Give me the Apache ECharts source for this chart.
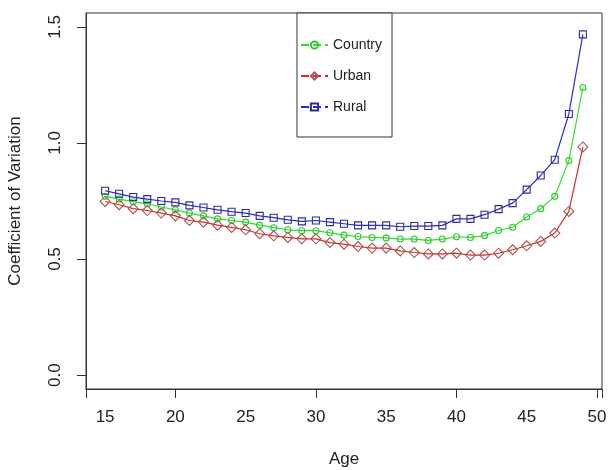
<!DOCTYPE html>
<html>
<head>
<meta charset="utf-8">
<script src="https://cdn.jsdelivr.net/npm/echarts@6/dist/echarts.min.js"></script>
<style>
  html, body { margin: 0; padding: 0; background: #fff; }
  #chart { width: 612px; height: 470px; }
</style>
</head>
<body>
<div id="chart"></div>
<script>
// ages on the x axis
const ages = [15, 16, 17, 18, 19, 20, 21, 22, 23, 24, 25, 26, 27, 28, 29, 30, 31, 32,
              33, 34, 35, 36, 37, 38, 39, 40, 41, 42, 43, 44, 45, 46, 47, 48, 49];

// coefficient of variation
const country = [0.770, 0.758, 0.747, 0.738, 0.724, 0.712, 0.698, 0.686, 0.673, 0.666,
                 0.659, 0.646, 0.635, 0.626, 0.622, 0.622, 0.613, 0.603, 0.597, 0.593,
                 0.591, 0.586, 0.586, 0.580, 0.586, 0.596, 0.593, 0.601, 0.623, 0.637,
                 0.681, 0.717, 0.770, 0.924, 1.239];
const urban = [0.748, 0.734, 0.717, 0.709, 0.698, 0.686, 0.666, 0.659, 0.646, 0.636,
               0.626, 0.609, 0.600, 0.593, 0.587, 0.587, 0.571, 0.564, 0.554, 0.547,
               0.547, 0.535, 0.528, 0.522, 0.522, 0.525, 0.517, 0.517, 0.525, 0.540,
               0.557, 0.576, 0.612, 0.705, 0.983];
const rural = [0.794, 0.781, 0.767, 0.758, 0.750, 0.744, 0.731, 0.722, 0.712, 0.704,
               0.698, 0.686, 0.678, 0.669, 0.662, 0.666, 0.659, 0.652, 0.645, 0.645,
               0.645, 0.639, 0.642, 0.642, 0.645, 0.673, 0.673, 0.691, 0.715, 0.741,
               0.799, 0.860, 0.928, 1.125, 1.468];

const xTicks = [15, 20, 25, 30, 35, 40, 45, 50];
const yTicks = [0, 0.5, 1.0, 1.5];

const FONT = 'Liberation Sans, Arial, sans-serif';
const TICK = 9;

function pairs(values) {
    return ages.map((a, i) => [a, values[i]]);
}

function makeSeries(name, values, symbol, size, lineColor, markColor) {
    return {
        name: name,
        type: 'line',
        data: pairs(values),
        symbol: symbol,
        symbolSize: size,
        showAllSymbol: true,
        lineStyle: { color: lineColor, width: 1.2 },
        itemStyle: { color: 'rgba(255,255,255,0)', borderColor: markColor, borderWidth: 1.1 },
        emphasis: { disabled: true }
    };
}

const chart = echarts.init(document.getElementById('chart'));

chart.setOption({
    animation: false,
    backgroundColor: '#fff',
    textStyle: { fontFamily: FONT },
    grid: {
        left: 86, right: 10, top: 13, bottom: 81,
        containLabel: false,
        outerBoundsMode: 'none',
        show: true,
        borderColor: '#333',
        borderWidth: 1
    },
    legend: {
        orient: 'vertical',
        left: 297,
        top: 13,
        padding: [25, 10, 23, 3],
        itemWidth: 27,
        itemHeight: 9,
        itemGap: 17,
        borderColor: '#333',
        borderWidth: 1,
        backgroundColor: '#fff',
        textStyle: { fontSize: 14, color: '#222', fontFamily: FONT },
        data: [
            { name: 'Country', lineStyle: { type: 'dashed' } },
            { name: 'Urban', lineStyle: { type: 'dashed' } },
            { name: 'Rural', lineStyle: { type: 'dashed' } }
        ]
    },
    xAxis: {
        type: 'value',
        min: 13.64,
        max: 50.36,
        name: 'Age',
        nameLocation: 'middle',
        nameGap: 62,
        nameTextStyle: { fontSize: 17, color: '#222' },
        axisLine: { show: true, onZero: false, lineStyle: { color: '#333' } },
        axisTick: { show: true, length: TICK, lineStyle: { color: '#333' } },
        axisLabel: { customValues: xTicks, margin: 20, fontSize: 17, color: '#222' },
        splitLine: { show: false }
    },
    yAxis: {
        type: 'value',
        min: -0.06,
        max: 1.56,
        name: 'Coefficient of Variation',
        nameLocation: 'middle',
        nameGap: 62,
        nameTextStyle: { fontSize: 17, color: '#222' },
        axisLine: { show: true, lineStyle: { color: '#333' } },
        axisTick: { show: true, length: TICK, customValues: yTicks,
                    lineStyle: { color: '#333' } },
        axisLabel: {
            customValues: yTicks,
            rotate: 90,
            margin: 22,
            fontSize: 17,
            color: '#222',
            formatter: v => v.toFixed(1)
        },
        splitLine: { show: false }
    },
    series: [
        makeSeries('Country', country, 'circle', 6, '#2ede2e', '#30c830'),
        makeSeries('Urban', urban, 'diamond', 10, '#d82828', '#a8554f'),
        makeSeries('Rural', rural, 'rect', 7, '#2a2ad4', '#2e2e90')
    ]
});
</script>
</body>
</html>
